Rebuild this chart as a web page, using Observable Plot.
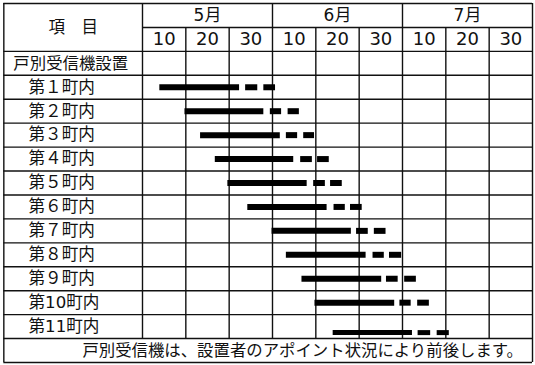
<!DOCTYPE html>
<html><head><meta charset="utf-8">
<script src="https://cdn.jsdelivr.net/npm/d3@7"></script>
<script src="https://cdn.jsdelivr.net/npm/@observablehq/plot@0.6"></script>
<style>body{margin:0;background:#fff} svg{display:block}</style>
</head><body><div id="chart"></div>
<script>
// Labels
const months = ["5月", "6月", "7月"];
const dekadLabels = ["10", "20", "30", "10", "20", "30", "10", "20", "30"];
const headerLabel = "項　目";
const sectionLabel = "戸別受信機設置";
const districts = ["第１町内", "第２町内", "第３町内", "第４町内", "第５町内", "第６町内",
  "第７町内", "第８町内", "第９町内", "第10町内", "第11町内"];
const footnote = "戸別受信機は、設置者のアポイント状況により前後します。";

// Schedule, in days counted from 1 May (each column = 10 days)
const solidStart = [4.0, 9.8, 13.4, 16.8, 19.7, 24.3, 29.9, 33.2, 36.8, 39.8, 44.0];
const solidEnd   = [22.4, 28.0, 31.8, 34.9, 38.0, 42.6, 48.2, 51.6, 55.2, 58.2, 62.3];
const dash1Start = [23.8, 29.5, 33.2, 36.5, 39.5, 44.2, 49.4, 53.2, 56.3, 59.4, 63.6];
const dash1End   = [26.6, 32.1, 35.8, 39.2, 42.2, 46.8, 52.1, 55.8, 59.0, 62.0, 66.5];
const dash2Start = [28.0, 33.6, 37.2, 40.4, 43.4, 48.0, 53.5, 57.0, 60.5, 63.5, 68.0];
const dash2End   = [30.7, 36.2, 39.7, 43.1, 46.1, 50.7, 56.2, 59.8, 63.2, 66.2, 70.8];

// Table structure (in scale units)
const xLeft = -32, xRight = 90;
const firstRow = 3; // index of first district row
const nRows = 15;

const segs = [];
districts.forEach((d, i) => {
  segs.push({row: i, x1: solidStart[i], x2: solidEnd[i]});
  segs.push({row: i, x1: dash1Start[i], x2: dash1End[i]});
  segs.push({row: i, x1: dash2Start[i], x2: dash2End[i]});
});
const lastRow = districts.length - 1;

const hLinesFull = d3.range(2, nRows).map(y => ({y}));
const vMonth = [0, 30, 60].map(x => ({x}));
const vDekad = [10, 20, 40, 50, 70, 80].map(x => ({x}));

const font = "'Noto Sans CJK JP', 'Noto Sans', sans-serif";
const numFont = "'DejaVu Sans', 'Noto Sans CJK JP', sans-serif";
const ink = "#111";
const lw = 1.4;

const chart = Plot.plot({
  width: 535, height: 365,
  marginTop: 0, marginRight: 0, marginBottom: 0, marginLeft: 0,
  style: {fontFamily: font, background: "#fff"},
  x: {type: "linear", domain: [xLeft, xRight], range: [3.33, 532], axis: null},
  y: {type: "linear", domain: [0, nRows], range: [3, 362], axis: null},
  marks: [
    // grid
    Plot.ruleY(hLinesFull, {y: "y", x1: xLeft, x2: xRight, stroke: ink, strokeWidth: lw}),
    Plot.ruleY([{y: 1}], {y: "y", x1: 0, x2: xRight, stroke: ink, strokeWidth: lw}),
    Plot.ruleX(vMonth, {x: "x", y1: 0, y2: nRows - 1, stroke: ink, strokeWidth: lw}),
    Plot.ruleX(vDekad, {x: "x", y1: 1, y2: nRows - 1, stroke: ink, strokeWidth: lw}),
    // frame
    Plot.ruleY([0, nRows], {x1: xLeft, x2: xRight, stroke: ink, strokeWidth: lw}),
    Plot.ruleX([xLeft, xRight], {y1: 0, y2: nRows, stroke: ink, strokeWidth: lw}),
    // header texts
    Plot.text(months, {x: (d, i) => i * 30 + 15, y: 0.5, text: d => d, fontSize: 17, fontFamily: numFont, fill: ink}),
    Plot.text(dekadLabels, {x: (d, i) => i * 10 + 5, y: 1.5, text: d => d, fontSize: 18, fontFamily: numFont, fill: ink}),
    Plot.text([headerLabel], {x: (xLeft) / 2, y: 1, text: d => d, fontSize: 16.5, fill: ink}),
    Plot.text([sectionLabel], {x: -29.8, y: 2.5, text: d => d, textAnchor: "start", fontSize: 16.4, fill: ink}),
    Plot.text(districts, {x: -26.3, y: (d, i) => firstRow + i + 0.5, text: d => d, textAnchor: "start", fontSize: 16.6, fontFamily: numFont, fill: ink}),
    Plot.text([footnote], {x: 87.8, y: nRows - 0.5, text: d => d, textAnchor: "end", fontSize: 16.4, fill: ink}),
    // bars
    Plot.ruleY(segs.filter(s => s.row !== lastRow), {y: s => firstRow + s.row + 0.5, x1: "x1", x2: "x2", stroke: "#000", strokeWidth: 6}),
    Plot.ruleY(segs.filter(s => s.row === lastRow), {y: s => firstRow + s.row + 0.5, x1: "x1", x2: "x2", dy: 6, stroke: "#000", strokeWidth: 5}),
  ]
});
document.getElementById("chart").appendChild(chart);
</script>
</body></html>
